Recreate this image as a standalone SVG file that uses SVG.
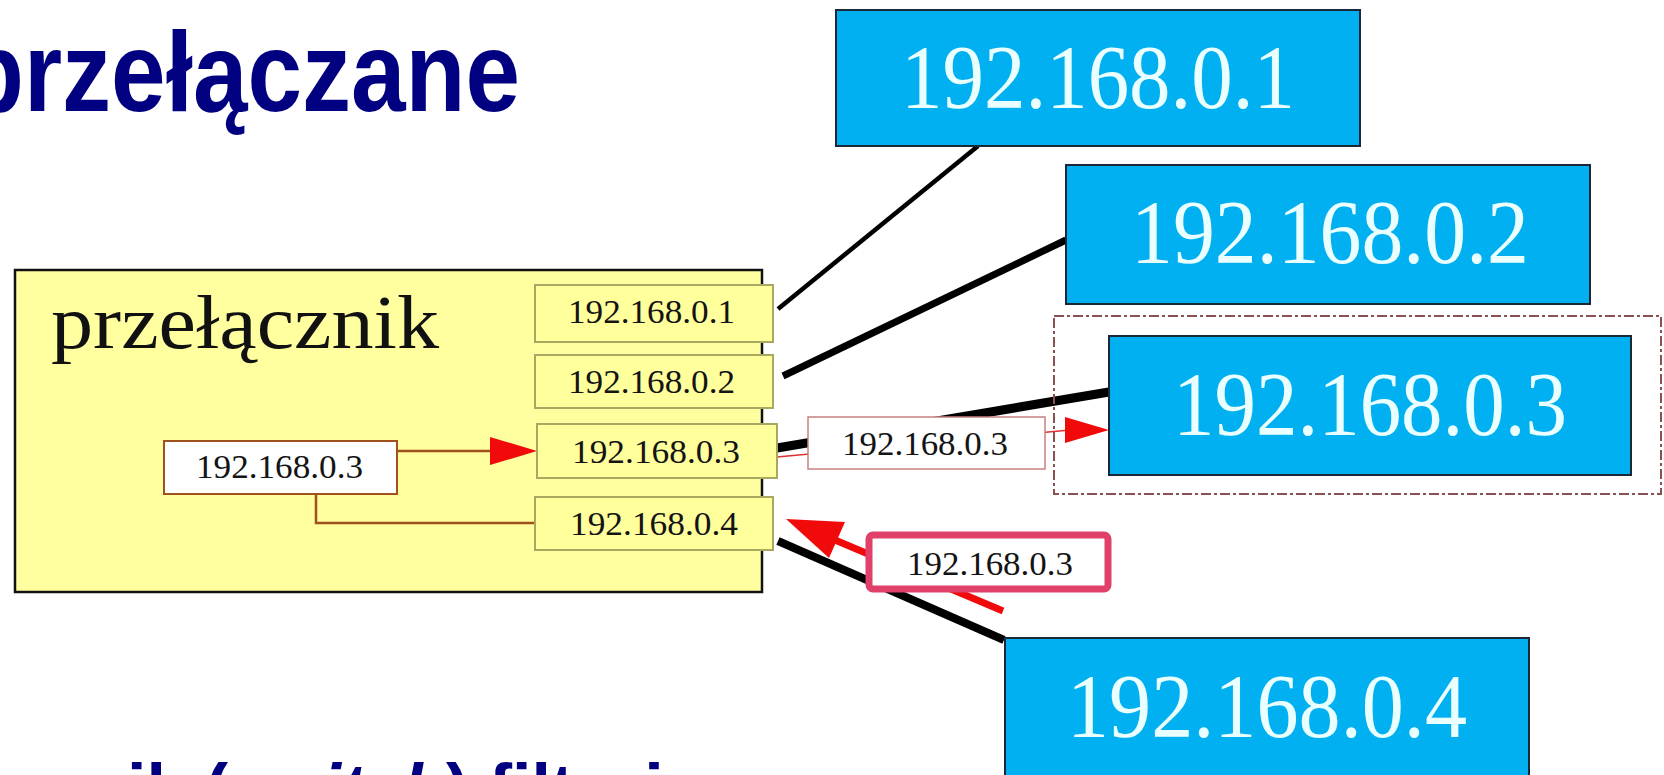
<svg xmlns="http://www.w3.org/2000/svg" width="1664" height="775" viewBox="0 0 1664 775">
<style>
.blue{fill:#00b0f0;stroke:#1c2838;stroke-width:2}
.bluetxt{font-family:"Liberation Serif","Times New Roman",serif;font-size:90px;fill:#eaffff}
.port{fill:#ffff9c;stroke:#a8a860;stroke-width:2}
.porttxt{font-family:"Liberation Serif","Times New Roman",serif;font-size:33px;fill:#141414}
.pkt{fill:#ffffff}
.cable{stroke:#000;fill:none}
.brown{stroke:#a0521c;stroke-width:2.5;fill:none}
.red{fill:#f00a0a}
.heading{font-family:"Liberation Sans",Arial,sans-serif;font-weight:bold;fill:#000080}
</style>
<rect width="1664" height="775" fill="#ffffff"/>

<g id="title">
<text class="heading" x="-36" y="111" font-size="114" textLength="556" lengthAdjust="spacingAndGlyphs">przełączane</text>
</g>

<g id="connectors">
<line class="cable" x1="778" y1="309" x2="978" y2="146" stroke-width="4.5"/>
<line class="cable" x1="783" y1="376" x2="1066" y2="240" stroke-width="7"/>
<line class="cable" x1="777" y1="448" x2="1109" y2="392" stroke-width="9"/>
<line class="cable" x1="778" y1="541" x2="1004" y2="640" stroke-width="8"/>
<line x1="777" y1="457" x2="1070" y2="430" stroke="#e03030" stroke-width="1.5"/>
<polygon class="red" points="1065,417 1109,430 1065,443"/>
<line x1="1003" y1="611" x2="835" y2="540" stroke="#f00a0a" stroke-width="7"/>
<polygon class="red" points="786,519 845,522 829,558"/>
</g>

<g id="switch">
<rect x="15" y="270" width="747" height="322" fill="#ffff9f" stroke="#111" stroke-width="2.5"/>
<text x="51" y="348" font-family="'Liberation Serif','Times New Roman',serif" font-size="76" fill="#111" textLength="388" lengthAdjust="spacingAndGlyphs">przełącznik</text>
</g>

<g id="frame">
<rect x="164" y="441" width="233" height="53" fill="#ffffff" stroke="#a0521c" stroke-width="2"/>
<text class="porttxt" x="196" y="478" font-size="35" textLength="167" lengthAdjust="spacingAndGlyphs">192.168.0.3</text>
</g>

<g id="internal-links">
<path class="brown" d="M397,451 H492"/>
<polygon class="red" points="490,437 537,451 490,465"/>
<path class="brown" d="M316,494 V523 H535"/>
</g>

<g id="port1">
<rect class="port" x="535" y="285" width="238" height="57"/>
<text class="porttxt" x="568" y="323" textLength="167" lengthAdjust="spacingAndGlyphs">192.168.0.1</text>
</g>
<g id="port2">
<rect class="port" x="535" y="355" width="238" height="53"/>
<text class="porttxt" x="568" y="393" textLength="167" lengthAdjust="spacingAndGlyphs">192.168.0.2</text>
</g>
<g id="port3">
<rect class="port" x="537" y="424" width="240" height="54"/>
<text class="porttxt" x="572" y="463" textLength="168" lengthAdjust="spacingAndGlyphs">192.168.0.3</text>
</g>
<g id="port4">
<rect class="port" x="535" y="497" width="238" height="53"/>
<text class="porttxt" x="570" y="535" textLength="168" lengthAdjust="spacingAndGlyphs">192.168.0.4</text>
</g>

<g id="host1">
<rect class="blue" x="836" y="10" width="524" height="136"/>
<text class="bluetxt" x="901" y="108" textLength="394" lengthAdjust="spacingAndGlyphs">192.168.0.1</text>
</g>
<g id="host2">
<rect class="blue" x="1066" y="165" width="524" height="139"/>
<text class="bluetxt" x="1131" y="263" textLength="398" lengthAdjust="spacingAndGlyphs">192.168.0.2</text>
</g>
<g id="host3">
<rect x="1054" y="316" width="607" height="178" fill="none" stroke="#8b5050" stroke-width="2" stroke-dasharray="10,3,3,3"/>
<rect class="blue" x="1109" y="336" width="522" height="139"/>
<text class="bluetxt" x="1173" y="435" textLength="394" lengthAdjust="spacingAndGlyphs">192.168.0.3</text>
</g>
<g id="host4">
<rect class="blue" x="1005" y="638" width="524" height="160"/>
<text class="bluetxt" x="1067" y="737" textLength="400" lengthAdjust="spacingAndGlyphs">192.168.0.4</text>
</g>

<g id="packet1">
<rect class="pkt" x="808" y="417" width="237" height="52" stroke="#c88080" stroke-width="1.5"/>
<text class="porttxt" x="842" y="455" textLength="166" lengthAdjust="spacingAndGlyphs">192.168.0.3</text>
</g>
<g id="packet2">
<rect class="pkt" x="869" y="535" width="239" height="54" rx="4" stroke="#e0406a" stroke-width="7"/>
<text class="porttxt" x="907" y="575" textLength="166" lengthAdjust="spacingAndGlyphs">192.168.0.3</text>
</g>

<g id="bullet">
<text class="heading" x="-196" y="813" font-size="70">Przełącznik (<tspan font-style="italic">switch</tspan>) filtruje</text>
</g>
</svg>
